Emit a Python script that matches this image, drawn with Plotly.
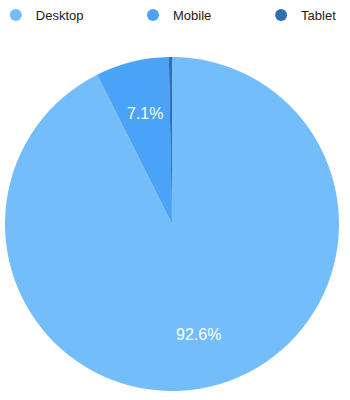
import math
import plotly.graph_objects as go

labels = ["Desktop", "Mobile", "Tablet"]
values = [92.6, 7.1, 0.3]
colors = ["#72bdfa", "#4aa3f7", "#2f6fb3"]
shown_text = ["92.6%", "7.1%", ""]

W, H = 350, 400
dom_x = [5 / W, 339 / W]
dom_y = [1 - 391 / H, 1 - 57 / H]

fig = go.Figure()
fig.add_trace(go.Pie(
    labels=labels, values=values, sort=False, direction="clockwise", rotation=0,
    marker=dict(colors=colors, line=dict(width=0)),
    textinfo="none",
    showlegend=False, hoverinfo="label+percent",
    domain=dict(x=dom_x, y=dom_y),
))

# percentage labels placed along each slice's mid-angle
cx = (dom_x[0] + dom_x[1]) / 2 * W
cy = (dom_y[0] + dom_y[1]) / 2 * H
radius = min((dom_x[1] - dom_x[0]) * W, (dom_y[1] - dom_y[0]) * H) / 2
total = sum(values)
cum = 0.0
for v, t in zip(values, shown_text):
    mid = (cum + v / 2) / total * 2 * math.pi
    cum += v
    if not t:
        continue
    r = 0.68 * radius
    px = cx + r * math.sin(mid)
    py = cy + r * math.cos(mid)
    fig.add_annotation(x=px / W, y=py / H, xref="paper", yref="paper",
                       xanchor="center", yanchor="middle",
                       text=t, showarrow=False,
                       font=dict(color="white", size=16, family="Liberation Sans"))

legend_x = [-0.012, 0.38, 0.746]
for i, (lab, col) in enumerate(zip(labels, colors)):
    lg = "legend" if i == 0 else f"legend{i+1}"
    fig.add_trace(go.Scatter(x=[None], y=[None], mode="markers", name=lab,
                             marker=dict(color=col, size=12, symbol="circle"),
                             legend=lg))
legend_common = dict(orientation="h", y=1.0, yanchor="top", xanchor="left",
                     font=dict(family="Liberation Sans", size=13, color="#222"),
                     bgcolor="rgba(0,0,0,0)")
fig.update_layout(
    width=W, height=H, margin=dict(l=0, r=0, t=0, b=0, autoexpand=False),
    paper_bgcolor="white", plot_bgcolor="white",
    xaxis=dict(visible=False), yaxis=dict(visible=False),
    legend=dict(x=legend_x[0], **legend_common),
    legend2=dict(x=legend_x[1], **legend_common),
    legend3=dict(x=legend_x[2], **legend_common),
)
fig.write_html("out.html")
